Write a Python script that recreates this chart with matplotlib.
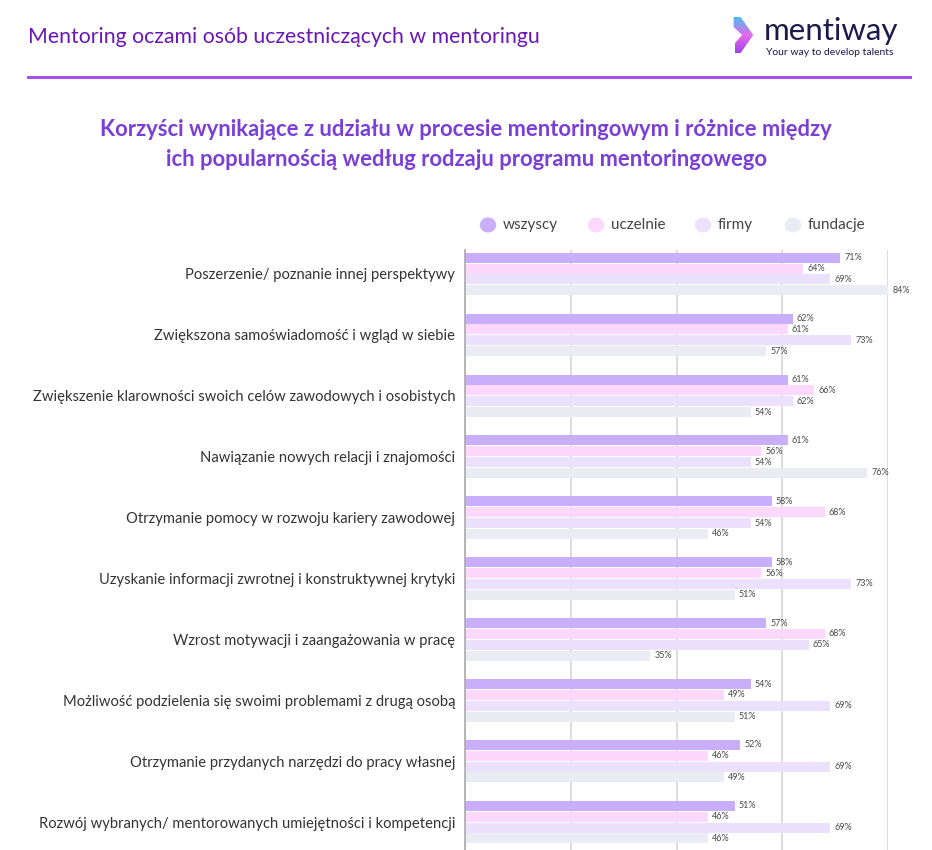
import matplotlib.pyplot as plt
import numpy as np
from matplotlib.patches import Polygon

plt.rcParams['font.family'] = ['Lato', 'DejaVu Sans']

categories = [
    'Poszerzenie/ poznanie innej perspektywy',
    'Zwiększona samoświadomość i wgląd w siebie',
    'Zwiększenie klarowności swoich celów zawodowych i osobistych',
    'Nawiązanie nowych relacji i znajomości',
    'Otrzymanie pomocy w rozwoju kariery zawodowej',
    'Uzyskanie informacji zwrotnej i konstruktywnej krytyki',
    'Wzrost motywacji i zaangażowania w pracę',
    'Możliwość podzielenia się swoimi problemami z drugą osobą',
    'Otrzymanie przydanych narzędzi do pracy własnej',
    'Rozwój wybranych/ mentorowanych umiejętności i kompetencji',
]
series = ['wszyscy', 'uczelnie', 'firmy', 'fundacje']
wszyscy = [71, 62, 61, 61, 58, 58, 57, 54, 52, 51]
uczelnie = [64, 61, 66, 56, 68, 56, 68, 49, 46, 46]
firmy = [69, 73, 62, 54, 54, 73, 65, 69, 69, 69]
fundacje = [84, 57, 54, 76, 46, 51, 35, 51, 49, 46]
colors = ['#c8aefb', '#fdd8fd', '#ebe1fd', '#ebebf3']

fig = plt.figure(figsize=(9.32, 8.5), dpi=100)

# header
fig.text(28 / 932, 1 - 37 / 850, 'Mentoring oczami osób uczestniczących w mentoringu',
         fontsize=15.3, color='#6a17b8', va='center', ha='left')
fig.add_artist(plt.Line2D([28 / 932, 910 / 932], [1 - 77 / 850] * 2, color='#a550f2', lw=2.2))

# logo
logo_ax = fig.add_axes([728 / 932, 1 - 55 / 850, 28 / 932, 40 / 850])
logo_ax.set_xlim(0, 1)
logo_ax.set_ylim(0, 1)
logo_ax.axis('off')
grad = np.linspace(0, 1, 100).reshape(-1, 1)
img = logo_ax.imshow(grad, extent=[0, 1, 0, 1], cmap=plt.matplotlib.colors.LinearSegmentedColormap.from_list(
    'g', ['#38c6f4', '#e46ce6', '#9b3cf0']), aspect='auto', origin='upper')
shape = Polygon([(0.2, 0.95), (0.45, 0.95), (0.9, 0.5), (0.45, 0.05), (0.25, 0.05), (0.25, 0.3), (0.5, 0.5), (0.2, 0.7)],
                closed=True, transform=logo_ax.transData)
img.set_clip_path(shape)
fig.text(764 / 932, 1 - 40 / 850, 'mentiway', fontsize=22.5, color='#1c1a4a', va='baseline', ha='left')
fig.text(766 / 932, 1 - 48 / 850, 'Your way to develop talents', fontsize=7.5, color='#1c1a4a', va='top', ha='left')

# title
fig.text(466 / 932, 1 - 130 / 850, 'Korzyści wynikające z udziału w procesie mentoringowym i różnice między',
         fontsize=15.8, fontweight='bold', color='#7a3fd6', ha='center', va='center')
fig.text(466 / 932, 1 - 160 / 850, 'ich popularnością według rodzaju programu mentoringowego',
         fontsize=15.8, fontweight='bold', color='#7a3fd6', ha='center', va='center')

# legend
leg_x = [488, 596, 703, 793]
for name, col, lx in zip(series, colors, leg_x):
    fig.add_artist(plt.Circle((lx / 932, 1 - 225 / 850), 7.5 / 932, color=col,
                              transform=fig.transFigure))
    fig.text((lx + 15) / 932, 1 - 225 / 850, name, fontsize=11, color='#444444', va='center', ha='left')

ax = fig.add_axes([465 / 932, 0, 423 / 932, 600 / 850])
xmax = 80
ax.set_xlim(0, xmax)
ax.set_ylim(9.458, -0.394)

y = np.arange(len(categories))
h = 0.164
pitch = 0.178
data = [wszyscy, uczelnie, firmy, fundacje]
for k, (vals, col) in enumerate(zip(data, colors)):
    pos = y + (k - 1.5) * pitch
    ax.barh(pos, vals, height=h, color=col, zorder=2)
    for p, v in zip(pos, vals):
        ax.annotate(f'{v}%', (min(v, xmax), p), xytext=(3, 0), textcoords='offset points',
                    fontsize=6.5, color='#4a4a4a', va='center', ha='left', annotation_clip=False)

ax.set_xticks([0, 20, 40, 60, 80])
ax.xaxis.grid(True, color='#d9d9d9', lw=1.3, zorder=0)
ax.tick_params(axis='x', length=0, labelbottom=False)
ax.set_yticks(y)
ax.set_yticklabels(categories, fontsize=10.6, color='#333333')
ax.tick_params(axis='y', length=0, pad=7)
for s in ['top', 'right', 'bottom']:
    ax.spines[s].set_visible(False)
ax.spines['left'].set_color('#aaaaaa')
ax.spines['left'].set_linewidth(1.2)

fig.savefig('out.png', dpi=100)
